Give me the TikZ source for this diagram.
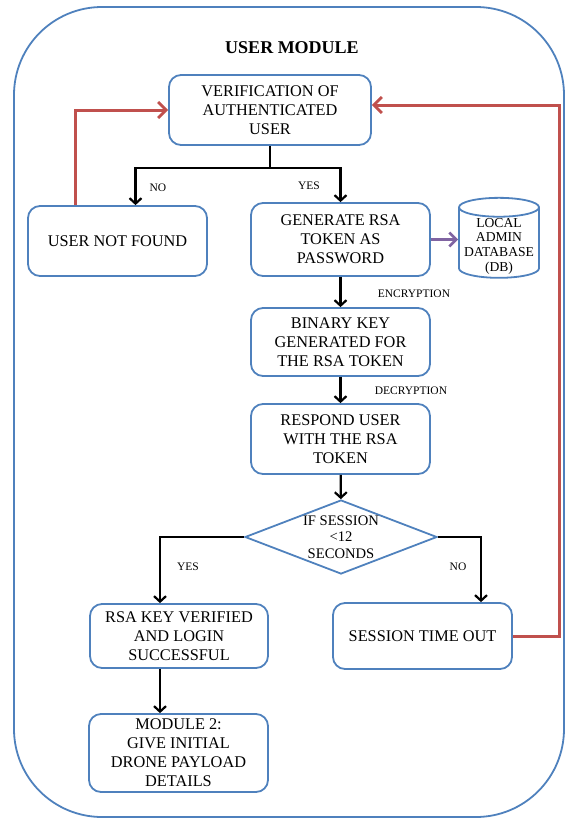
\documentclass[tikz,border=0pt]{standalone}
\usepackage{fontspec}
\setmainfont{Liberation Serif}
\usetikzlibrary{arrows.meta,shapes.geometric}

\definecolor{boxblue}{RGB}{79,129,189}
\definecolor{backred}{RGB}{192,80,77}
\definecolor{dbpurple}{RGB}{128,100,162}

\begin{document}
\begin{tikzpicture}[x=1pt, y=-1pt,
		box/.style={draw=boxblue, line width=1.8pt, rounded corners=12pt, align=center, inner sep=2pt, font=\fontsize{16.3}{19}\selectfont},
		arr/.style={line width=2.3pt, -{Straight Barb[length=5.5pt,width=12pt,line width=2.2pt]}},
		back/.style={draw=backred, line width=3pt, -{Straight Barb[length=8pt,width=16pt,line width=2.8pt]}},
		lbl/.style={font=\fontsize{11.5}{13}\selectfont}]
			\useasboundingbox (0,0) rectangle (566,820);
			
			% outer frame and title
			\draw[boxblue, line width=1.8pt, rounded corners=88pt] (14,7) rectangle (564,817);
			\node[font=\bfseries\fontsize{18}{20}\selectfont] (title) at (292,48) {USER MODULE};
			
			% boxes
			\node[box, minimum width=202, minimum height=70] (verify) at (270,110) {VERIFICATION OF\\AUTHENTICATED\\USER};
			\node[box, minimum width=179, minimum height=70] (notfound) at (117.5,241) {USER NOT FOUND};
			\node[box, minimum width=179, minimum height=73] (generate) at (340.5,239.5) {GENERATE RSA\\TOKEN AS\\PASSWORD};
			\node[box, minimum width=179, minimum height=68] (binary) at (340.5,342) {BINARY KEY\\GENERATED FOR\\THE RSA TOKEN};
			\node[box, minimum width=179, minimum height=70] (respond) at (340.5,439) {RESPOND USER\\WITH THE RSA\\TOKEN};
			\node[box, minimum width=178, minimum height=64] (verified) at (179,636) {RSA KEY VERIFIED\\AND LOGIN\\SUCCESSFUL};
			\node[box, minimum width=179, minimum height=66] (timeout) at (422.5,636) {SESSION TIME OUT};
			\node[box, minimum width=179, minimum height=78] (module) at (178.5,753) {MODULE 2:\\GIVE INITIAL\\DRONE PAYLOAD\\DETAILS};
			
			% database
			\node[cylinder, shape border rotate=90, aspect=0.27, draw=boxblue, line width=1.8pt, minimum width=80, minimum height=80, inner sep=0pt,
				font=\fontsize{13.6}{14.7}\selectfont] (db) at (499,243)
				{\raisebox{-7pt}[0pt][0pt]{\begin{tabular}{@{}c@{}}LOCAL\\ADMIN\\DATABASE\\(DB)\end{tabular}}};
			
			% decision
			\node[diamond, draw=boxblue, line width=1.8pt, minimum width=192, minimum height=74, inner sep=0pt,
				label={[align=center, font=\fontsize{14.6}{16.5}\selectfont]center:IF SESSION\\<12\\SECONDS}] (session) at (341,537) {};
			
			% yes / no after verification
			\coordinate (branch) at (270,168);
			\draw[line width=2.3pt] (verify.south) -- (branch);
			\draw[arr] (branch) -| ([xshift=18pt]notfound.north);
			\draw[arr] (branch) -| (generate.north);
			\node[lbl] (nolbl) at (158,188) {NO};
			\node[lbl] (yeslbl) at (309,186) {YES};
			
			% token steps
			\draw[dbpurple, line width=3pt, -{Straight Barb[length=7pt,width=14pt,line width=2.6pt]}] (generate.east) -- (generate.east -| db.west);
			\draw[arr] (generate) -- (binary);
			\node[lbl] (enclbl) at (414,294) {ENCRYPTION};
			\draw[arr] (binary) -- (respond);
			\node[lbl] (declbl) at (411,391) {DECRYPTION};
			\draw[arr] (respond) -- (session);
			
			% session check
			\draw[arr] (session.west) -| ([xshift=-19pt]verified.north);
			\node[lbl] (yeslbl2) at (188,567) {YES};
			\draw[arr] (session.east) -| ([xshift=58.5pt]timeout.north);
			\node[lbl] (nolbl2) at (458,567) {NO};
			\draw[arr] ([xshift=-19pt]verified.south) -- ([xshift=-18.5pt]module.north);
			
			% back to verification
			\draw[back] (timeout.east) -- ++(47,0) |- ([yshift=5pt]verify.east);
			\draw[back] ([xshift=-42pt]notfound.north) |- (verify.west);
			
\end{tikzpicture}
\end{document}
